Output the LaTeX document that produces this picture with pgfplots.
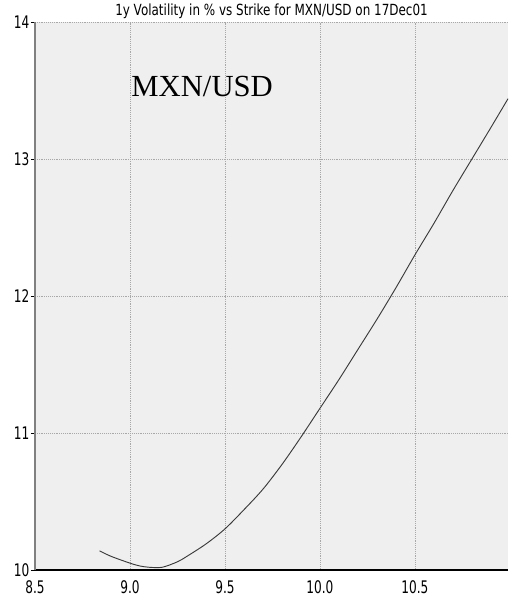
\documentclass[border=0pt]{standalone}
\usepackage{pgfplots}
\pgfplotsset{compat=1.18}
\usepackage{graphicx}
\usepackage{fontspec}
\setmainfont{Liberation Serif}
\newfontfamily\cond[FakeStretch=0.7]{DejaVu Sans}
\newfontfamily\condt[FakeStretch=0.78]{DejaVu Sans}
\definecolor{bgcol}{HTML}{EFEFEF}
\definecolor{gridcol}{HTML}{A8A8A8}
\definecolor{curvecol}{HTML}{3A3A3A}

\begin{document}
\begin{tikzpicture}[x=0.75pt,y=0.75pt]
\begin{axis}[
  scale only axis,
  width=354.75pt, height=411pt,
  xmin=8.5, xmax=10.99, ymin=10, ymax=14,
  axis lines=left,
  axis line style={-},
  x axis line style={black, line width=0.8pt},
  y axis line style={gray, line width=1.4pt},
  axis background/.style={fill=bgcol},
  xtick={8.5,9.0,9.5,10.0,10.5},
  ytick={10,11,12,13,14},
  xtick style={draw=none},
  ytick style={black, line width=0.6pt},
  tick align=outside,
  major tick length=3pt,
  grid=major,
  major grid style={gridcol, densely dotted, line width=0.5pt},
  /pgf/number format/assume math mode=true,
  xticklabel style={font=\cond\fontsize{13}{13}\selectfont, inner sep=1pt, yshift=-4pt,
    /pgf/number format/fixed, /pgf/number format/fixed zerofill,
    /pgf/number format/precision=1},
  yticklabel style={font=\cond\fontsize{13}{13}\selectfont, inner sep=1pt},
  title={1y Volatility in \% vs Strike for MXN/USD on 17Dec01},
  title style={font=\condt\fontsize{11.5}{11.5}\selectfont, yshift=-7pt},
  clip=false,
]
\addplot[curvecol, line width=0.7pt, smooth] coordinates {
(8.84,10.14) (8.9,10.10) (9.0,10.05) (9.05,10.03) (9.1,10.02) (9.17,10.02)
(9.25,10.06) (9.3,10.10) (9.4,10.19) (9.5,10.30) (9.6,10.44) (9.7,10.59)
(9.8,10.77) (9.9,10.97) (10.0,11.18) (10.1,11.39) (10.2,11.61) (10.3,11.83)
(10.4,12.06) (10.5,12.30) (10.6,12.53) (10.7,12.77) (10.8,13.00)
(10.9,13.23) (10.99,13.44)
};
\node[font=\fontsize{23}{23}\selectfont] at (axis cs:9.38,13.53) {MXN/USD};
\end{axis}
\pgfresetboundingbox
\path[use as bounding box] (-35,-40) rectangle (473,570);
\end{tikzpicture}
\end{document}
